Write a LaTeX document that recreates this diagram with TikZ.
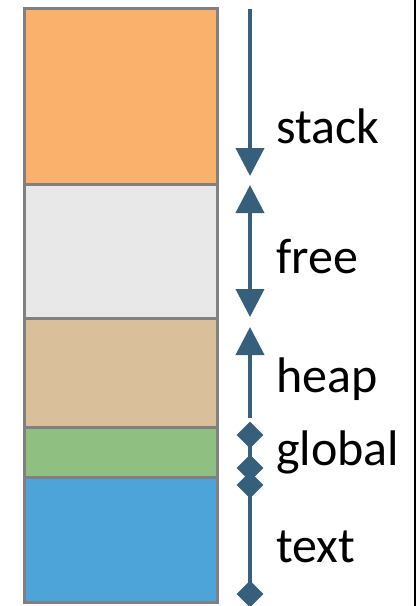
\documentclass[tikz,border=0pt]{standalone}
\usepackage{fontspec}
\setmainfont{Carlito}
\usetikzlibrary{arrows.meta,shapes.geometric}
\definecolor{cstack}{HTML}{F9B16B}
\definecolor{cfree}{HTML}{E8E8E8}
\definecolor{cheap}{HTML}{D9C09B}
\definecolor{cglobal}{HTML}{8FC082}
\definecolor{ctext}{HTML}{4CA4D8}
\definecolor{cborder}{HTML}{808080}
\definecolor{carrow}{HTML}{365F7B}
\tikzset{
  seg/.style={draw=cborder, line width=3pt, inner sep=0pt, outer sep=0pt,
    minimum width=193pt, anchor=north west},
  lbl/.style={inner sep=0pt, anchor=base west, font=\fontsize{50}{60}\selectfont},
  conn/.style={draw=carrow, line width=4pt},
  tri/.style={-{Triangle[width=28pt,length=28pt]}},
  dia/.style={diamond, fill=carrow, draw=none, inner sep=0pt,
    minimum width=27pt, minimum height=27pt},
}
\begin{document}
\begin{tikzpicture}[x=1pt,y=-1pt]
\useasboundingbox (0,0) rectangle (418,606);
% memory segments
\node[seg, fill=cstack,  minimum height=176pt] (stack)  at (24,8)   {};
\node[seg, fill=cfree,   minimum height=134pt] (free)   at (24,184) {};
\node[seg, fill=cheap,   minimum height=109pt] (heap)   at (24,318) {};
\node[seg, fill=cglobal, minimum height=50pt]  (global) at (24,427) {};
\node[seg, fill=ctext,   minimum height=125pt] (text)   at (24,477) {};
% right frame line
\coordinate (ft) at (415,0);
\coordinate (fb) at (415,606);
\draw[line width=2.5pt] (ft) -- (fb);
% labels
\node[lbl] (lstack)  at (276,143) {stack};
\node[lbl] (lfree)   at (276,273) {free};
\node[lbl] (lheap)   at (276,392) {heap};
\node[lbl] (lglobal) at (276,465) {global};
\node[lbl] (ltext)   at (276,562) {text};
% arrow coordinates
\coordinate (s1) at (250,9);
\coordinate (s2) at (250,176);
\coordinate (f1) at (250,185);
\coordinate (f2) at (250,317);
\coordinate (h1) at (250,327);
\coordinate (h2) at (250,418);
% stack arrow
\draw[conn, tri] (s1) -- (s2);
% free arrow
\draw[conn, {Triangle[width=28pt,length=28pt]}-{Triangle[width=28pt,length=28pt]}] (f1) -- (f2);
% heap arrow
\draw[conn, tri] (h2) -- (h1);
% global and text markers
\node[dia] (g1) at (250,435) {};
\node[dia] (g2) at (250,468) {};
\node[dia] (t1) at (250,485) {};
\node[dia] (t2) at (250,594) {};
\draw[conn] (g1.center) -- (g2.center);
\draw[conn] (t1.center) -- (t2.center);
\end{tikzpicture}
\end{document}
